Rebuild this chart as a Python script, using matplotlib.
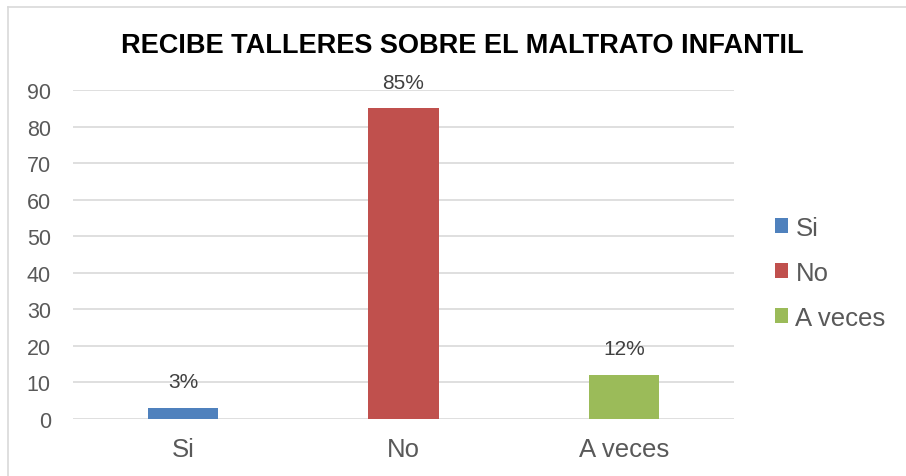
import matplotlib.pyplot as plt
from matplotlib.lines import Line2D

categories = ["Si", "No", "A veces"]
values = [3, 85, 12]
labels = ["3%", "85%", "12%"]
colors = ["#4F81BD", "#C0504D", "#9BBB59"]
yticks = [0, 10, 20, 30, 40, 50, 60, 70, 80, 90]

plt.rcParams["font.family"] = ["Liberation Sans", "DejaVu Sans"]

W, H = 906, 477
fig = plt.figure(figsize=(W / 100, H / 100), dpi=100)
ax = fig.add_axes([73 / W, 1 - 420 / H, (734 - 73) / W, (420 - 91) / H])

# light border (only top and left edges show in the reference)
border = dict(transform=fig.transFigure, color="#D9D9D9", linewidth=1.2)
fig.lines.append(Line2D([8 / W, 1], [1 - 8 / H, 1 - 8 / H], **border))
fig.lines.append(Line2D([8 / W, 8 / W], [0, 1 - 8 / H], **border))

x = list(range(len(categories)))
bars = ax.bar(x, values, width=0.318, color=colors, zorder=3)
for b, v, t in zip(bars, values, labels):
    ax.annotate(t, (b.get_x() + b.get_width() / 2, v), xytext=(0, 12),
                textcoords="offset points", ha="center", va="bottom",
                fontsize=15, color="#404040")

ax.set_xlim(-0.5, 2.5)
ax.set_ylim(0, 90)
ax.set_yticks(yticks)
ax.set_xticks(x)
ax.set_xticklabels(categories, fontsize=18.5, color="#595959")
ax.tick_params(axis="y", labelsize=15.5, labelcolor="#595959", length=0, pad=16)
ax.tick_params(axis="x", length=0, pad=13)
ax.yaxis.grid(True, color="#D9D9D9", linewidth=1.2, zorder=0)
for s in ax.spines.values():
    s.set_visible(False)

fig.text(462 / W, 1 - 46 / H, "RECIBE TALLERES SOBRE EL MALTRATO INFANTIL",
         ha="center", va="center", fontsize=19.5, fontweight="bold", color="black")

ax.legend(handles=list(bars), labels=categories, loc="center left",
          bbox_to_anchor=(762 / W, 1 - 274 / H), bbox_transform=fig.transFigure,
          frameon=False, fontsize=18.5, borderpad=0, handlelength=0.52,
          handleheight=0.52, handletextpad=0.28, labelspacing=0.82,
          labelcolor="#595959")

fig.savefig("out.png", dpi=100)
